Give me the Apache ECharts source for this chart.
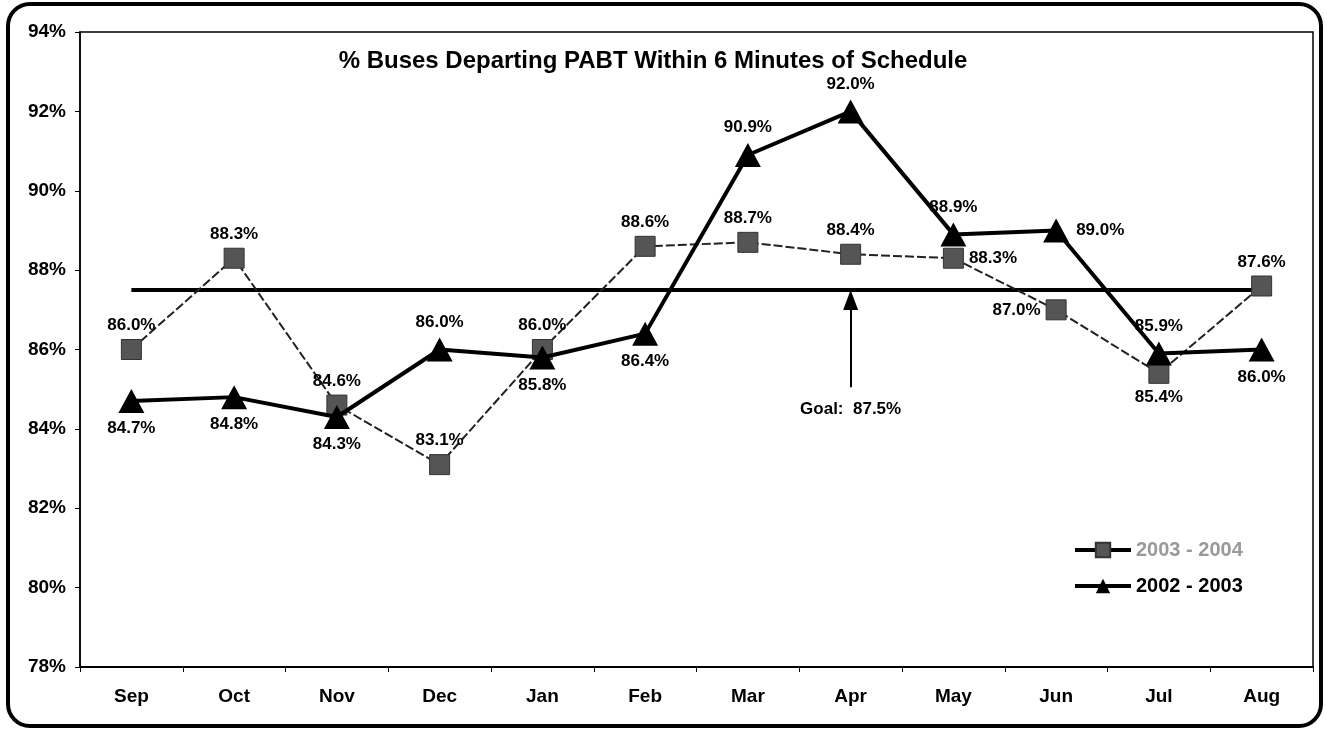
<!DOCTYPE html>
<html style="height: 100%">
<head>
    <meta charset="utf-8">
    <script src="https://cdn.jsdelivr.net/npm/echarts@6/dist/echarts.min.js"></script>
</head>
<body style="height: 100%; margin: 0; background: #fff;">
<div id="container" style="width: 1327px; height: 732px;"></div>
<script type="text/javascript">
    // 数据
    var months = ['Sep', 'Oct', 'Nov', 'Dec', 'Jan', 'Feb', 'Mar', 'Apr', 'May', 'Jun', 'Jul', 'Aug'];
    var fy0304 = [86.0, 88.3, 84.6, 83.1, 86.0, 88.6, 88.7, 88.4, 88.3, 87.0, 85.4, 87.6];
    var fy0203 = [84.7, 84.8, 84.3, 86.0, 85.8, 86.4, 90.9, 92.0, 88.9, 89.0, 85.9, 86.0];
    var goal = 87.5;
    var yTicks = [78, 80, 82, 84, 86, 88, 90, 92, 94];

    // 标签位置
    var pos0304 = ['top', 'top', 'top', 'top', 'top', 'top', 'top', 'top', 'right', 'left', 'bottom', 'top'];
    var pos0203 = ['bottom', 'bottom', 'bottom', 'top', 'bottom', 'bottom', 'top', 'top', 'top', 'right', 'top', 'bottom'];

    var FONT = 'Arial, "Liberation Sans", sans-serif';

    function withLabels(values, positions) {
        return values.map(function (v, i) {
            return {
                value: v,
                label: { position: positions[i] }
            };
        });
    }

    var myChart = echarts.init(document.getElementById('container'));
    var option = {
        animation: false,
        backgroundColor: '#fff',
        title: {
            text: '% Buses Departing PABT Within 6 Minutes of Schedule',
            left: 648,
            top: 44,
            textAlign: 'center',
            textStyle: {
                fontFamily: FONT,
                fontWeight: 'bold',
                fontSize: 24,
                color: '#000'
            }
        },
        legend: {
            orient: 'vertical',
            left: 1068,
            top: 535,
            itemWidth: 56,
            itemHeight: 18,
            itemGap: 16,
            textStyle: {
                fontFamily: FONT,
                fontWeight: 'bold',
                fontSize: 20,
                color: '#000'
            },
            data: [
                {
                    name: '2003 - 2004',
                    textStyle: { color: '#999' },
                    lineStyle: { type: 'solid', width: 4, color: '#000' }
                },
                {
                    name: '2002 - 2003',
                    lineStyle: { type: 'solid', width: 4, color: '#000' }
                }
            ]
        },
        graphic: [{
            type: 'rect',
            shape: { x: 8, y: 4, width: 1313, height: 722, r: 22 },
            style: { fill: 'none', stroke: '#000', lineWidth: 4 },
            silent: true
        }],
        grid: {
            left: 80,
            right: 14,
            top: 32,
            bottom: 65,
            show: true,
            borderColor: '#000',
            borderWidth: 1.5
        },
        xAxis: {
            type: 'category',
            data: months,
            boundaryGap: true,
            axisLine: { lineStyle: { color: '#000', width: 2 } },
            axisTick: { show: true, length: 5, lineStyle: { color: '#000' } },
            axisLabel: {
                margin: 20,
                fontFamily: FONT,
                fontWeight: 'bold',
                fontSize: 19,
                color: '#000'
            },
            splitLine: { show: false }
        },
        yAxis: {
            type: 'value',
            min: yTicks[0],
            max: yTicks[yTicks.length - 1],
            interval: 2,
            axisLine: { show: true, lineStyle: { color: '#000', width: 1.5 } },
            axisTick: { show: true, length: 5, lineStyle: { color: '#000' } },
            axisLabel: {
                formatter: '{value}%',
                margin: 14,
                fontFamily: FONT,
                fontWeight: 'bold',
                fontSize: 19,
                color: '#000'
            },
            splitLine: { show: false }
        },
        series: [
            {
                name: 'Goal',
                type: 'line',
                data: months.map(function () { return goal; }),
                showSymbol: false,
                symbol: 'none',
                lineStyle: { color: '#000', width: 4 },
                z: 2,
                markLine: {
                    silent: true,
                    symbol: ['none', 'triangle'],
                    symbolSize: [15, 20],
                    lineStyle: { color: '#000', width: 2, type: 'solid' },
                    label: {
                        show: true,
                        position: 'start',
                        distance: 14,
                        formatter: 'Goal:  87.5%',
                        fontFamily: FONT,
                        fontWeight: 'bold',
                        fontSize: 17,
                        color: '#000'
                    },
                    data: [[
                        { coord: ['Apr', 85.05] },
                        { coord: ['Apr', 87.25] }
                    ]]
                }
            },
            {
                name: '2003 - 2004',
                type: 'line',
                data: withLabels(fy0304, pos0304),
                symbol: 'rect',
                symbolSize: 20,
                itemStyle: { color: '#555', borderColor: '#333', borderWidth: 1 },
                lineStyle: { color: '#222', width: 2, type: [9, 3] },
                label: {
                    show: true,
                    distance: 5,
                    formatter: function (p) { return p.value.toFixed(1) + '%'; },
                    fontFamily: FONT,
                    fontWeight: 'bold',
                    fontSize: 17,
                    color: '#000'
                },
                z: 3
            },
            {
                name: '2002 - 2003',
                type: 'line',
                data: withLabels(fy0203, pos0203),
                symbol: 'triangle',
                symbolSize: [26, 24],
                itemStyle: { color: '#000' },
                lineStyle: { color: '#000', width: 4 },
                label: {
                    show: true,
                    distance: 7,
                    formatter: function (p) { return p.value.toFixed(1) + '%'; },
                    fontFamily: FONT,
                    fontWeight: 'bold',
                    fontSize: 17,
                    color: '#000'
                },
                z: 4
            }
        ]
    };

    if (option && typeof option === 'object') {
        myChart.setOption(option, true);
    }
</script>
</body>
</html>
